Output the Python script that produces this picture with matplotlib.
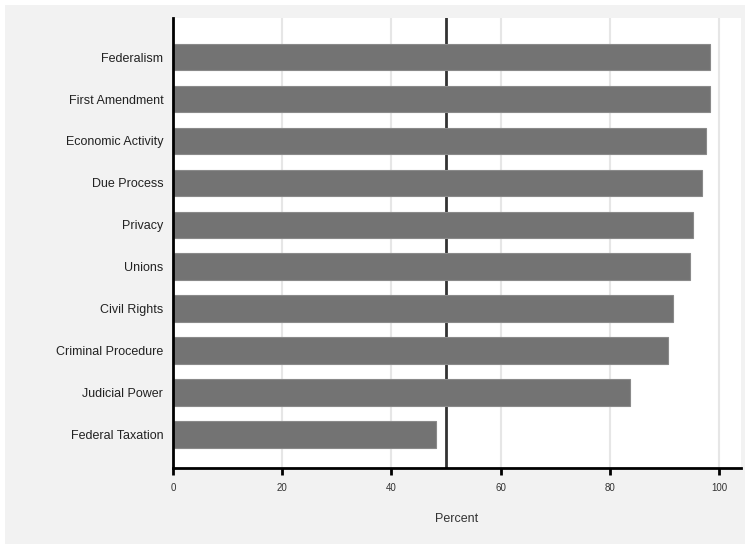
import numpy as np
import matplotlib.pyplot as plt
from matplotlib.patches import Rectangle

plt.rcParams['font.family'] = ['Liberation Sans', 'DejaVu Sans']

# categories, top to bottom
categories = ["Federalism", "First Amendment", "Economic Activity", "Due Process",
              "Privacy", "Unions", "Civil Rights", "Criminal Procedure",
              "Judicial Power", "Federal Taxation"]
percent = [98.4, 98.4, 97.6, 96.9, 95.3, 94.6, 91.5, 90.7, 83.7, 48.1]
xticks = [0, 20, 40, 60, 80, 100]
ref_value = 50

fig = plt.figure(figsize=(7.51, 5.44), dpi=100)
fig.patch.set_facecolor("white")
fig.patches.append(Rectangle((5 / 751, 0), 740 / 751, 539 / 544,
                             transform=fig.transFigure, facecolor="#f2f2f2",
                             edgecolor="none", zorder=-10))

ax = fig.add_axes([173 / 751, (544 - 468) / 544, (741 - 173) / 751, (468 - 18) / 544])
ax.set_facecolor("white")

ypos = np.arange(len(categories))[::-1]
ax.barh(ypos, percent, height=0.64, color="#737373", edgecolor="#8a8a8a",
        linewidth=0.8, zorder=3)
# reference line sits behind the bars
ax.axvline(ref_value, color="#333333", linewidth=2, zorder=2)

ax.set_xlim(0, 104)
ax.set_ylim(-0.79, len(categories) - 1 + 0.93)
ax.set_xticks(xticks)
ax.set_xticklabels([str(t) for t in xticks], fontsize=7, color="#333333")
ax.set_yticks(ypos)
ax.set_yticklabels(categories, fontsize=9, color="#222222")
ax.tick_params(axis="y", length=0, pad=7)
ax.tick_params(axis="x", length=5, width=2, color="black", pad=6)
ax.grid(axis="x", color="#e6e6e6", linewidth=1.5, zorder=0)
ax.set_axisbelow(True)

for side in ["top", "right"]:
    ax.spines[side].set_visible(False)
for side in ["left", "bottom"]:
    ax.spines[side].set_linewidth(2)
    ax.spines[side].set_color("black")
    ax.spines[side].set_zorder(5)

ax.set_xlabel("Percent", fontsize=9, color="#333333", labelpad=14)

fig.savefig("out.png", dpi=100, facecolor=fig.get_facecolor())
